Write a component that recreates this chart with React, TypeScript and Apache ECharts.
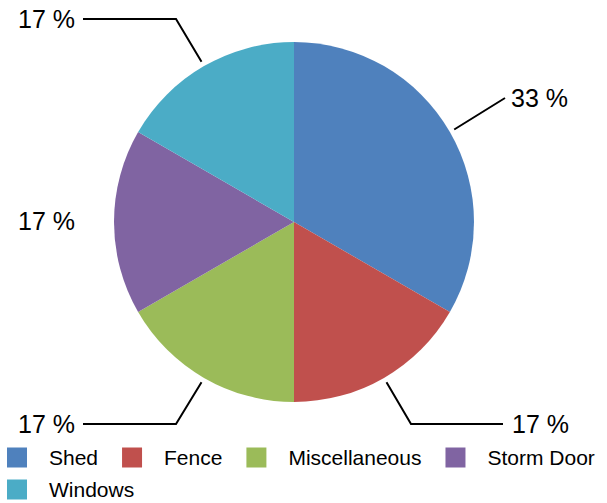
import React, { useEffect, useRef } from 'react';
import * as echarts from 'echarts';

const categories = ['Shed', 'Fence', 'Miscellaneous', 'Storm Door', 'Windows'];
const values = [2, 1, 1, 1, 1];
const colors = ['#4F81BD', '#C0504D', '#9BBB59', '#8064A2', '#4BACC6'];

const FONT = "'Liberation Sans', Arial, sans-serif";
const CX = 294;
const CY = 222;
const R = 180;

// label text anchor and leader-line bend points per slice (layout only)
const labelAnchors: { x: number; y: number; align: string; bends: number[][] }[] = [
  { x: 511, y: 98, align: 'left', bends: [[505, 98]] },
  { x: 512, y: 424, align: 'left', bends: [[411, 424], [503, 424]] },
  { x: 75, y: 424, align: 'right', bends: [[176, 424], [83, 424]] },
  { x: 75, y: 221, align: 'right', bends: [] },
  { x: 75, y: 19, align: 'right', bends: [[176, 19], [83, 19]] },
];

export default function App() {
  const ref = useRef<HTMLDivElement>(null);
  useEffect(() => {
    if (!ref.current) return;
    const chart = echarts.init(ref.current, null, { renderer: 'svg' });
    const total = values.reduce((a, b) => a + b, 0);
    const midAngles: number[] = [];
    let cum = 0;
    values.forEach((v) => {
      midAngles.push(90 - ((cum + v / 2) / total) * 360);
      cum += v;
    });
    chart.setOption({
      animation: false,
      backgroundColor: '#ffffff',
      color: colors,
      legend: [
        {
          data: categories.slice(0, 4),
          left: 7,
          top: 447,
          padding: 0,
          itemWidth: 20,
          itemHeight: 20,
          itemGap: 24,
          icon: 'rect',
          selectedMode: false,
          textStyle: { fontSize: 21, fontFamily: FONT, color: '#000', padding: [0, 0, 0, 17], lineHeight: 20 },
        },
        {
          data: categories.slice(4),
          left: 7,
          top: 479,
          padding: 0,
          itemWidth: 20,
          itemHeight: 20,
          itemGap: 24,
          icon: 'rect',
          selectedMode: false,
          textStyle: { fontSize: 21, fontFamily: FONT, color: '#000', padding: [0, 0, 0, 17], lineHeight: 20 },
        },
      ],
      series: [
        {
          type: 'pie',
          center: [CX, CY],
          radius: R,
          startAngle: 90,
          clockwise: true,
          avoidLabelOverlap: false,
          emphasis: { scale: false },
          data: categories.map((name, i) => ({
            name,
            value: values[i],
            labelLine: { show: labelAnchors[i].bends.length > 0 },
          })),
          label: {
            show: true,
            position: 'outside',
            fontSize: 25,
            fontFamily: FONT,
            color: '#000',
            formatter: (p: any) => Math.round((p.value / total) * 100) + ' %',
          },
          labelLine: {
            show: true,
            lineStyle: { color: '#000', width: 2 },
          },
          labelLayout: (params: any) => {
            const i = params.dataIndex;
            const a = labelAnchors[i];
            const ang = (midAngles[i] * Math.PI) / 180;
            const start = [CX + (R + 5) * Math.cos(ang), CY - (R + 5) * Math.sin(ang)];
            const res: any = {
              x: a.x,
              y: a.y,
              align: a.align,
              verticalAlign: 'middle',
            };
            if (a.bends.length > 0) {
              const pts = [start, ...a.bends];
              if (pts.length === 2) {
                pts.splice(1, 0, [(pts[0][0] + pts[1][0]) / 2, (pts[0][1] + pts[1][1]) / 2]);
              }
              res.labelLinePoints = pts;
            }
            return res;
          },
        },
      ],
    });
    return () => chart.dispose();
  }, []);
  return (
    <div
      ref={ref}
      style={{ position: 'absolute', left: 0, top: 0, width: 607, height: 503, background: '#fff' }}
    />
  );
}
